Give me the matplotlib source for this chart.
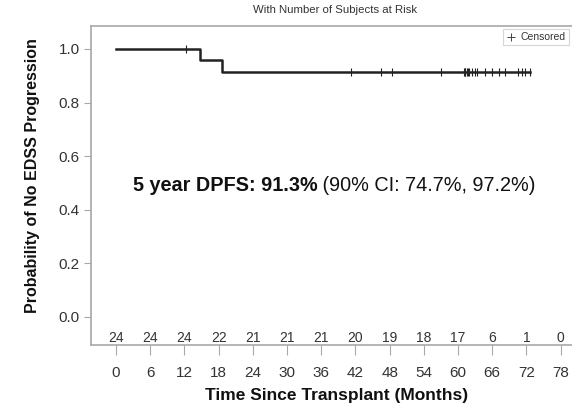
import matplotlib
matplotlib.use("Agg")
import matplotlib.pyplot as plt
from matplotlib.lines import Line2D

plt.rcParams["font.family"] = ["Liberation Sans", "DejaVu Sans"]

# Kaplan-Meier step curve (months, survival probability)
step_times = [0, 14.7, 18.6, 72.7]
step_surv = [1.0, 0.958, 0.913, 0.913]

# censored observations (months) and survival level at that time
censor_times = [12.2, 41.2, 46.4, 48.4, 57.0, 61.0, 61.2, 61.3, 61.5, 61.7,
                61.9, 62.4, 62.9, 63.3, 64.7, 65.9, 67.1, 68.2, 70.5, 71.2,
                71.8, 72.7]
censor_surv = [1.0] + [0.913] * 21

# number at risk
risk_times = [0, 6, 12, 18, 24, 30, 36, 42, 48, 54, 60, 66, 72, 78]
risk_counts = [24, 24, 24, 22, 21, 21, 21, 20, 19, 18, 17, 6, 1, 0]

TXT = "#333333"
SPINE = "#a8a8a8"

fig = plt.figure(figsize=(5.72, 4.05), dpi=100)
ax = fig.add_axes([0.159, 0.148, 0.858, 0.788])

ax.step(step_times, step_surv, where="post", color="#222222", lw=1.8)
ax.plot(censor_times, censor_surv, ls="none", marker="|", ms=6,
        mew=0.8, color="#222222")

for t, n in zip(risk_times, risk_counts):
    ax.text(t, -0.08, str(n), ha="center", va="center", fontsize=10, color=TXT)

ax.set_xlim(-4.4, 81.7)
ax.set_ylim(-0.105, 1.086)
ax.set_xticks(risk_times)
ax.set_yticks([0.0, 0.2, 0.4, 0.6, 0.8, 1.0])
ax.set_yticklabels(["0.0", "0.2", "0.4", "0.6", "0.8", "1.0"])
ax.tick_params(axis="both", colors=SPINE, labelcolor=TXT, labelsize=11)
ax.tick_params(axis="x", length=7, pad=8)
ax.tick_params(axis="y", length=5, pad=3)
for s in ax.spines.values():
    s.set_color(SPINE)
    s.set_linewidth(1.2)

ax.set_xlabel("Time Since Transplant (Months)", fontsize=12.5, fontweight="bold",
              color="#111111")
ax.xaxis.set_label_coords(0.5, -0.133)
ax.set_ylabel("Probability of No EDSS Progression", fontsize=11.5,
              fontweight="bold", color="#111111")
ax.yaxis.set_label_coords(-0.104, 0.53)

fig.text(0.585, 0.975, "With Number of Subjects at Risk", ha="center",
         va="center", fontsize=8.2, color=TXT)

t1 = ax.text(2.9, 0.49, "5 year DPFS: 91.3%", fontsize=14.3, fontweight="bold",
             color="#111111", va="center", ha="left")
ax.annotate(" (90% CI: 74.7%, 97.2%)", xy=(1, 0.5), xycoords=t1,
            va="center", ha="left", fontsize=14.3, color="#111111")

handle = Line2D([], [], ls="none", marker="+", ms=6, mew=0.7, color="#444444")
leg = ax.legend([handle], ["Censored"], loc="upper right", fontsize=7.5,
                frameon=True, fancybox=False, handlelength=0.9,
                handletextpad=0.5, borderpad=0.3, borderaxespad=0.3,
                bbox_to_anchor=(1.0, 0.936), bbox_transform=fig.transFigure)
leg.get_frame().set_edgecolor("#cccccc")
leg.get_frame().set_linewidth(0.8)
for t in leg.get_texts():
    t.set_color(TXT)

fig.savefig("out.png", dpi=100)
